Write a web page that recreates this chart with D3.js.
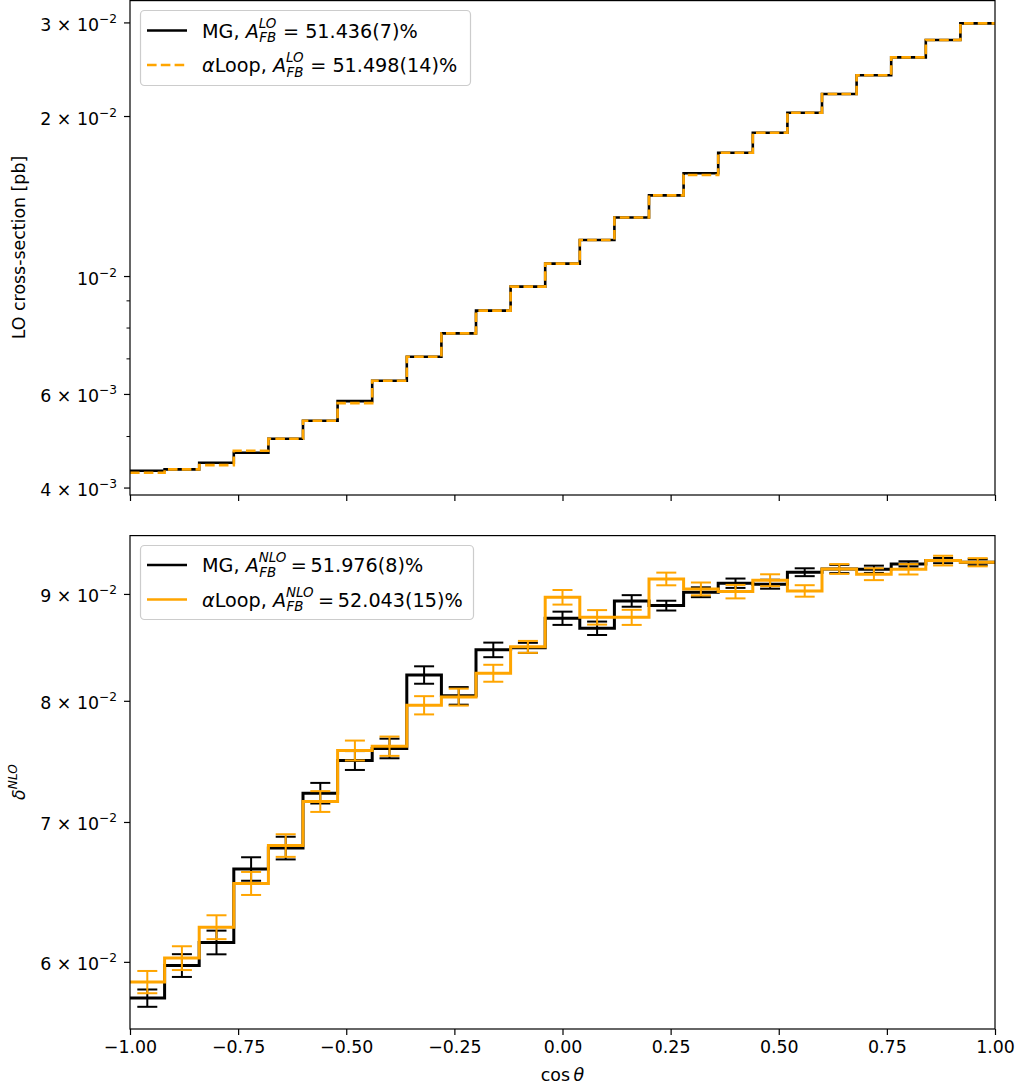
<!DOCTYPE html>
<html>
<head>
<meta charset="utf-8">
<script src="https://cdn.jsdelivr.net/npm/d3@7"></script>
<style>
body { margin: 0; background: #fff; }
svg { font-family: "DejaVu Sans", sans-serif; }
</style>
</head>
<body>
<svg id="chart" width="1022" height="1091"></svg>
<script>
// bin edges in cos(theta)
var binEdges = [-1, -0.92, -0.84, -0.76, -0.68, -0.6, -0.52, -0.44, -0.36, -0.28, -0.2, -0.12, -0.04,
    0.04, 0.12, 0.2, 0.28, 0.36, 0.44, 0.52, 0.6, 0.68, 0.76, 0.84, 0.92, 1];

// LO cross-section [pb]
var loMG = [0.004302, 0.004328, 0.004453, 0.004651, 0.004942, 0.005342, 0.005817, 0.006353, 0.00705, 0.0078,
    0.00861, 0.00955, 0.01055, 0.01169, 0.01289, 0.01418, 0.01561, 0.01706, 0.0186, 0.02029,
    0.022, 0.02386, 0.02579, 0.0278, 0.02988];
var loALoop = [0.004264, 0.004328, 0.004409, 0.004691, 0.004942, 0.005342, 0.005767, 0.006353, 0.00705, 0.0078,
    0.00861, 0.00955, 0.01055, 0.01169, 0.01289, 0.01418, 0.01549, 0.01706, 0.0186, 0.02029,
    0.022, 0.02386, 0.02579, 0.0278, 0.02988];

// delta NLO with errors
var nloMG = [0.05765, 0.05976, 0.0613, 0.06647, 0.06802, 0.07226, 0.07491, 0.07591, 0.08231, 0.08044,
    0.08462, 0.08481, 0.08762, 0.08666, 0.08931, 0.08885, 0.09017, 0.09107, 0.09097, 0.09218,
    0.09251, 0.09248, 0.09303, 0.09337, 0.0932];
var nloMGErr = [0.00055, 0.00075, 0.0008, 0.00086, 0.00085, 0.00082, 0.00078, 0.00082, 0.00079, 0.00078,
    0.00068, 0.00047, 0.00064, 0.00064, 0.00057, 0.00048, 0.00049, 0.00047, 0.00045, 0.0004,
    0.00042, 0.00037, 0.00027, 0.00027, 0.0003];
var nloALoop = [0.05868, 0.06025, 0.06234, 0.06542, 0.06821, 0.0716, 0.07574, 0.0761, 0.07961, 0.08033,
    0.08247, 0.0849, 0.08967, 0.08771, 0.08771, 0.0915, 0.0905, 0.09023, 0.09137, 0.0903,
    0.09251, 0.09198, 0.09248, 0.09337, 0.0932];
var nloALoopErr = [0.00072, 0.00079, 0.00082, 0.00083, 0.00085, 0.00082, 0.00083, 0.00081, 0.0008, 0.00075,
    0.00077, 0.00056, 0.00072, 0.0007, 0.00073, 0.00064, 0.00064, 0.00067, 0.0006, 0.00057,
    0.0005, 0.0006, 0.00053, 0.0005, 0.00042];

var xTicks = [-1, -0.75, -0.5, -0.25, 0, 0.25, 0.5, 0.75, 1];
var xTickLabels = ["\u22121.00", "\u22120.75", "\u22120.50", "\u22120.25", "0.00", "0.25", "0.50", "0.75", "1.00"];

var loMajor = [0.03, 0.02, 0.01, 0.006, 0.004];
var loMajorLabels = [["3", "\u22122"], ["2", "\u22122"], ["", "\u22122"], ["6", "\u22123"], ["4", "\u22123"]];
var loMinor = [0.009, 0.008, 0.007, 0.005];
var nloMajor = [0.09, 0.08, 0.07, 0.06];
var nloMajorLabels = [["9", "\u22122"], ["8", "\u22122"], ["7", "\u22122"], ["6", "\u22122"]];

var loLegend = [
    {name: "MG, ", sup: "LO", rest: " = 51.436(7)%", color: "black", dash: null},
    {name: "\u03b1", nameRest: "Loop, ", sup: "LO", rest: " = 51.498(14)%", color: "orange", dash: "9.6,4.2"}
];
var nloLegend = [
    {name: "MG, ", sup: "NLO", rest: "\u2009=\u200951.976(8)%", color: "black", dash: null},
    {name: "\u03b1", nameRest: "Loop, ", sup: "NLO", rest: "\u2009=\u200952.043(15)%", color: "orange", dash: null}
];

var left = 130, right = 995;
var topPanel = {top: 0, bottom: 495};
var botPanel = {top: 535, bottom: 1029};
var fontSize = 17.4, legendSize = 19.2;

var xScale = d3.scaleLinear().domain([-1, 1]).range([left, right]);
var yTop = d3.scaleLog().domain([0.003873, 0.03306]).range([topPanel.bottom, topPanel.top]);
var yBot = d3.scaleLog().domain([0.05572, 0.09604]).range([botPanel.bottom, botPanel.top]);

var svg = d3.select("#chart");

var defs = svg.append("defs");
defs.append("clipPath").attr("id", "clipTop")
    .append("rect").attr("x", left).attr("y", topPanel.top).attr("width", right - left).attr("height", topPanel.bottom - topPanel.top);
defs.append("clipPath").attr("id", "clipBot")
    .append("rect").attr("x", left).attr("y", botPanel.top).attr("width", right - left).attr("height", botPanel.bottom - botPanel.top);

var stepPoints = function(values) {
    var pts = values.map(function(v, i) { return [binEdges[i], v]; });
    pts.push([binEdges[binEdges.length - 1], values[values.length - 1]]);
    return pts;
};

var drawStep = function(g, yScale, values, color, width, dash) {
    var line = d3.line()
        .x(function(d) { return xScale(d[0]); })
        .y(function(d) { return yScale(d[1]); })
        .curve(d3.curveStepAfter);
    var p = g.append("path")
        .datum(stepPoints(values))
        .attr("d", line)
        .attr("fill", "none")
        .attr("stroke", color)
        .attr("stroke-width", width)
        .attr("stroke-linejoin", "miter");
    if (dash) p.attr("stroke-dasharray", dash);
};

var drawErrors = function(g, yScale, values, errs, color) {
    var rows = values.map(function(v, i) {
        return {x: (binEdges[i] + binEdges[i + 1]) / 2, lo: v - errs[i], hi: v + errs[i]};
    });
    var eb = g.append("g").attr("stroke", color).attr("stroke-width", 2).attr("fill", "none");
    eb.selectAll(".bar").data(rows).enter().append("line")
        .attr("x1", function(d) { return xScale(d.x); })
        .attr("x2", function(d) { return xScale(d.x); })
        .attr("y1", function(d) { return yScale(d.lo); })
        .attr("y2", function(d) { return yScale(d.hi); });
    eb.selectAll(".capLo").data(rows).enter().append("line")
        .attr("x1", function(d) { return xScale(d.x) - 10; })
        .attr("x2", function(d) { return xScale(d.x) + 10; })
        .attr("y1", function(d) { return yScale(d.lo); })
        .attr("y2", function(d) { return yScale(d.lo); });
    eb.selectAll(".capHi").data(rows).enter().append("line")
        .attr("x1", function(d) { return xScale(d.x) - 10; })
        .attr("x2", function(d) { return xScale(d.x) + 10; })
        .attr("y1", function(d) { return yScale(d.hi); })
        .attr("y2", function(d) { return yScale(d.hi); });
};

var drawAxes = function(yScale, panel, majors, labels, minors, showXLabels) {
    var axes = svg.append("g");
    var xAxis = d3.axisBottom(xScale)
        .tickValues(xTicks)
        .tickSize(6)
        .tickPadding(5.5)
        .tickFormat(function(d, i) { return showXLabels ? xTickLabels[i] : ""; });
    var gx = axes.append("g")
        .attr("transform", "translate(0," + panel.bottom + ")")
        .call(xAxis);
    gx.select(".domain").remove();
    gx.selectAll("text").attr("font-size", fontSize).attr("font-family", "DejaVu Sans").attr("fill", "black");
    gx.selectAll("line").attr("stroke", "black").attr("stroke-width", 1.2);

    var yAxis = d3.axisLeft(yScale).tickValues(majors).tickSize(6).tickFormat("");
    var gy = axes.append("g")
        .attr("transform", "translate(" + left + ",0)")
        .call(yAxis);
    gy.select(".domain").remove();
    gy.selectAll("line").attr("stroke", "black").attr("stroke-width", 1.2);
    gy.selectAll(".tick").each(function(d, i) {
        var t = d3.select(this).append("text")
            .attr("x", -13)
            .attr("y", 8)
            .attr("text-anchor", "end")
            .attr("font-size", fontSize)
            .attr("font-family", "DejaVu Sans")
            .attr("fill", "black");
        var lab = labels[i];
        t.append("tspan").text(lab[0] === "" ? "10" : lab[0] + " \u00d7 10");
        t.append("tspan").attr("dy", -8).attr("font-size", 12.2).text(lab[1]);
    });

    if (minors.length) {
        var minorAxis = d3.axisLeft(yScale).tickValues(minors).tickSize(3.5).tickFormat("");
        var gm = axes.append("g")
            .attr("transform", "translate(" + left + ",0)")
            .call(minorAxis);
        gm.select(".domain").remove();
        gm.selectAll("line").attr("stroke", "black").attr("stroke-width", 1);
    }

    axes.append("rect")
        .attr("x", left)
        .attr("y", panel.top + 0.6)
        .attr("width", right - left)
        .attr("height", panel.bottom - panel.top - 0.6)
        .attr("fill", "none")
        .attr("stroke", "black")
        .attr("stroke-width", 1.2);
};

var drawLegend = function(items, boxY, boxW, boxH, rowYs) {
    var lg = svg.append("g");
    lg.append("rect")
        .attr("x", 140.5).attr("y", boxY)
        .attr("width", boxW).attr("height", boxH)
        .attr("rx", 4)
        .attr("fill", "white").attr("fill-opacity", 0.8)
        .attr("stroke", "#cccccc").attr("stroke-width", 1.2);
    items.forEach(function(it, i) {
        var y = rowYs[i];
        var ln = lg.append("line")
            .attr("x1", 147).attr("x2", 187)
            .attr("y1", y).attr("y2", y)
            .attr("stroke", it.color).attr("stroke-width", 2.6);
        if (it.dash) ln.attr("stroke-dasharray", it.dash);
        var x0 = 202;
        var t = lg.append("text")
            .attr("x", x0).attr("y", y + 7)
            .attr("font-size", legendSize)
            .attr("fill", "black");
        if (it.nameRest) {
            t.append("tspan").attr("font-style", "italic").text(it.name);
            t.append("tspan").text(it.nameRest);
        } else {
            t.append("tspan").text(it.name);
        }
        t.append("tspan").attr("font-style", "italic").text("A");
        var sx = x0 + t.node().getComputedTextLength() + 0.5;
        var sup = t.append("tspan").attr("dy", -10).attr("font-size", 13.4).attr("font-style", "italic").text(it.sup);
        var supW = sup.node().getComputedTextLength();
        var sub = t.append("tspan").attr("x", sx).attr("dy", 14.5).attr("font-size", 13.4).attr("font-style", "italic").text("FB");
        var subW = sub.node().getComputedTextLength();
        t.append("tspan").attr("x", sx + Math.max(supW, subW)).attr("dy", -4.5).text(it.rest);
    });
};

// top panel
var gTop = svg.append("g").attr("clip-path", "url(#clipTop)");
drawStep(gTop, yTop, loMG, "black", 2.6, null);
drawStep(gTop, yTop, loALoop, "orange", 2.6, "9.6,4.2");
drawAxes(yTop, topPanel, loMajor, loMajorLabels, loMinor, false);
drawLegend(loLegend, 10.5, 330, 75, [30.5, 65]);

// bottom panel
var gBot = svg.append("g").attr("clip-path", "url(#clipBot)");
drawStep(gBot, yBot, nloMG, "black", 3, null);
drawErrors(gBot, yBot, nloMG, nloMGErr, "black");
drawStep(gBot, yBot, nloALoop, "orange", 3, null);
drawErrors(gBot, yBot, nloALoop, nloALoopErr, "orange");
drawAxes(yBot, botPanel, nloMajor, nloMajorLabels, [], true);
drawLegend(nloLegend, 545.5, 333, 74, [565, 599.5]);

// axis titles
svg.append("text")
    .attr("transform", "translate(25," + (topPanel.top + topPanel.bottom) / 2 + ") rotate(-90)")
    .attr("text-anchor", "middle")
    .attr("font-size", fontSize)
    .text("LO cross-section [pb]");

var dl = svg.append("text")
    .attr("transform", "translate(25," + (botPanel.top + botPanel.bottom) / 2 + ") rotate(-90)")
    .attr("text-anchor", "middle")
    .attr("font-size", fontSize);
dl.append("tspan").attr("font-style", "italic").text("\u03b4");
dl.append("tspan").attr("dy", -8).attr("font-size", 12.2).attr("font-style", "italic").text("NLO");

var xl = svg.append("text")
    .attr("x", (left + right) / 2)
    .attr("y", 1081)
    .attr("text-anchor", "middle")
    .attr("font-size", fontSize);
xl.append("tspan").text("cos\u2009");
xl.append("tspan").attr("font-style", "italic").text("\u03b8");
</script>
</body>
</html>
